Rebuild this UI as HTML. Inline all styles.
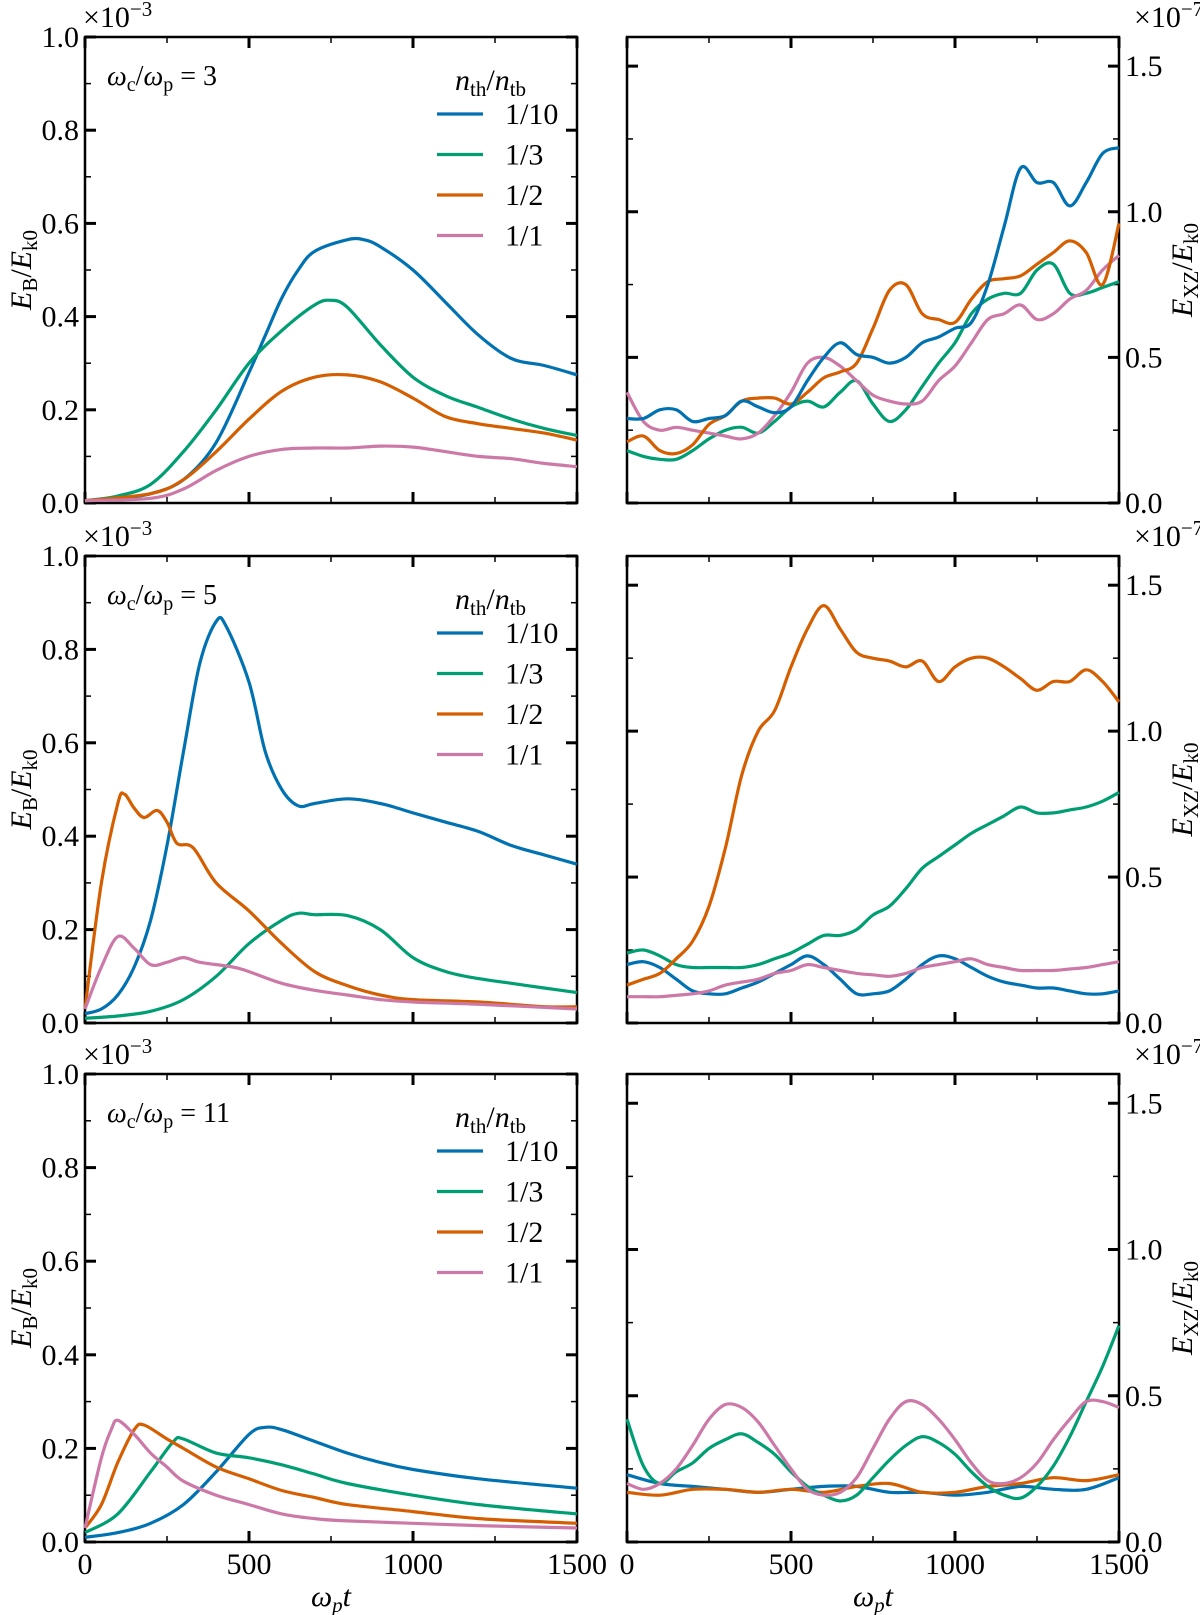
<!DOCTYPE html>
<html><head><meta charset="utf-8"><style>
html,body{margin:0;padding:0;background:#fff;}
svg{display:block;}
svg text{font-family:"Liberation Serif","DejaVu Serif",serif;}
</style></head><body>
<svg id="chart" width="1200" height="1615" viewBox="0 0 1200 1615" xmlns="http://www.w3.org/2000/svg" font-family="Liberation Serif, serif"></svg>
<script>
// ---- data (x = ωp t, values in units shown on axes) ----
const tB = [0,100,200,300,400,500,550,600,650,700,800,850,900,1000,1100,1200,1300,1400,1500];
const r1L_blue = [0.005,0.01,0.02,0.05,0.13,0.28,0.36,0.44,0.5,0.54,0.565,0.565,0.55,0.5,0.43,0.36,0.31,0.295,0.275];
const r1L_t = [0,100,200,300,400,500,600,700,750,800,900,1000,1100,1200,1300,1400,1500];
const r1L_green = [0.005,0.015,0.04,0.11,0.2,0.3,0.37,0.425,0.435,0.42,0.34,0.27,0.23,0.205,0.18,0.16,0.145];
const r1L_t2 = [0,200,300,400,500,600,700,800,900,1000,1100,1200,1300,1400,1500];
const r1L_orange = [0.005,0.02,0.05,0.11,0.18,0.24,0.27,0.275,0.26,0.225,0.185,0.17,0.16,0.15,0.135];
const r1L_pink = [0.005,0.01,0.03,0.07,0.1,0.115,0.118,0.118,0.122,0.12,0.11,0.1,0.095,0.085,0.078];

const tR = [0,50,100,150,200,250,300,350,400,450,500,550,600,650,700,750,800,850,900,950,1000,1050,1100,1150,1200,1250,1300,1350,1400,1450,1500];
const r1R_blue = [0.29,0.29,0.32,0.32,0.28,0.29,0.3,0.35,0.33,0.31,0.33,0.42,0.5,0.55,0.51,0.5,0.48,0.5,0.55,0.57,0.6,0.62,0.75,0.95,1.15,1.1,1.1,1.02,1.1,1.2,1.22];
const r1R_green = [0.18,0.16,0.15,0.15,0.18,0.22,0.25,0.26,0.24,0.28,0.33,0.35,0.33,0.38,0.42,0.34,0.28,0.32,0.4,0.48,0.55,0.65,0.7,0.72,0.72,0.8,0.82,0.72,0.72,0.74,0.76];
const r1R_orange = [0.21,0.23,0.18,0.17,0.2,0.27,0.3,0.35,0.36,0.36,0.34,0.38,0.43,0.45,0.48,0.6,0.73,0.75,0.65,0.63,0.62,0.7,0.76,0.77,0.78,0.82,0.86,0.9,0.86,0.75,0.96];
const r1R_pink = [0.38,0.28,0.25,0.26,0.25,0.24,0.23,0.22,0.24,0.3,0.38,0.48,0.5,0.47,0.42,0.37,0.35,0.34,0.35,0.42,0.47,0.55,0.63,0.65,0.68,0.63,0.65,0.7,0.73,0.8,0.85];

const r2L_tb = [0,50,100,150,200,250,300,350,400,430,500,550,600,650,700,800,900,1000,1100,1200,1300,1400,1500];
const r2L_blue = [0.02,0.03,0.06,0.12,0.22,0.38,0.58,0.77,0.86,0.85,0.73,0.58,0.5,0.465,0.47,0.48,0.47,0.45,0.43,0.41,0.38,0.36,0.34];
const r2L_tg = [0,100,200,300,400,500,600,650,700,800,900,1000,1100,1200,1300,1400,1500];
const r2L_green = [0.01,0.015,0.025,0.05,0.1,0.17,0.22,0.235,0.232,0.23,0.2,0.14,0.11,0.095,0.085,0.075,0.065];
const r2L_to = [0,50,100,120,150,180,220,250,280,330,400,500,600,700,800,900,1000,1200,1400,1500];
const r2L_orange = [0.03,0.3,0.47,0.49,0.46,0.44,0.455,0.43,0.385,0.375,0.3,0.24,0.17,0.11,0.08,0.06,0.05,0.045,0.035,0.035];
const r2L_tp = [0,50,100,150,200,250,300,350,450,500,600,700,800,900,1000,1200,1500];
const r2L_pink = [0.03,0.12,0.185,0.16,0.125,0.13,0.14,0.13,0.12,0.11,0.085,0.07,0.06,0.05,0.045,0.04,0.03];

const r2R_orange = [0.13,0.15,0.17,0.22,0.28,0.4,0.6,0.85,1.0,1.07,1.22,1.35,1.43,1.35,1.27,1.25,1.24,1.22,1.24,1.17,1.22,1.25,1.25,1.22,1.18,1.14,1.17,1.17,1.21,1.17,1.1];
const r2R_green = [0.24,0.25,0.23,0.2,0.19,0.19,0.19,0.19,0.2,0.22,0.24,0.27,0.3,0.3,0.32,0.37,0.4,0.46,0.53,0.57,0.61,0.65,0.68,0.71,0.74,0.72,0.72,0.73,0.74,0.76,0.79];
const r2R_blue = [0.2,0.21,0.19,0.15,0.11,0.1,0.1,0.12,0.14,0.17,0.2,0.23,0.2,0.15,0.1,0.1,0.11,0.15,0.2,0.23,0.22,0.19,0.16,0.14,0.13,0.12,0.12,0.11,0.1,0.1,0.11];
const r2R_pink = [0.09,0.09,0.09,0.095,0.1,0.11,0.13,0.14,0.15,0.17,0.18,0.2,0.19,0.18,0.17,0.165,0.16,0.17,0.19,0.2,0.21,0.22,0.2,0.19,0.18,0.18,0.18,0.185,0.19,0.2,0.21];

const r3L_tp = [0,50,80,100,150,200,250,300,400,500,600,700,800,1000,1200,1500];
const r3L_pink = [0.03,0.18,0.24,0.26,0.23,0.19,0.16,0.13,0.1,0.08,0.06,0.05,0.045,0.04,0.035,0.03];
const r3L_to = [0,50,100,150,180,250,300,400,500,600,700,800,1000,1200,1500];
const r3L_orange = [0.03,0.08,0.17,0.24,0.25,0.22,0.2,0.16,0.135,0.11,0.095,0.08,0.065,0.05,0.04];
const r3L_tg = [0,100,200,270,300,400,500,600,700,800,1000,1200,1500];
const r3L_green = [0.02,0.06,0.15,0.215,0.22,0.19,0.18,0.165,0.145,0.125,0.1,0.08,0.06];
const r3L_tb = [0,100,200,300,400,500,550,600,700,800,900,1000,1200,1500];
const r3L_blue = [0.01,0.02,0.04,0.08,0.15,0.23,0.245,0.24,0.215,0.19,0.17,0.155,0.135,0.115];

const r3R_pink = [0.2,0.18,0.2,0.25,0.33,0.42,0.47,0.46,0.41,0.33,0.25,0.18,0.16,0.17,0.22,0.32,0.42,0.48,0.47,0.42,0.35,0.27,0.21,0.2,0.22,0.27,0.35,0.42,0.48,0.48,0.46];
const r3R_green = [0.42,0.26,0.2,0.24,0.27,0.32,0.35,0.37,0.34,0.3,0.24,0.19,0.16,0.14,0.16,0.22,0.28,0.33,0.36,0.34,0.3,0.24,0.19,0.16,0.15,0.19,0.26,0.36,0.48,0.6,0.74];
const r3R_t = [0,100,200,300,400,500,600,700,800,900,1000,1100,1200,1300,1400,1500];
const r3R_blue = [0.23,0.2,0.19,0.18,0.17,0.18,0.19,0.19,0.17,0.17,0.16,0.17,0.19,0.18,0.18,0.22];
const r3R_orange = [0.17,0.16,0.18,0.18,0.17,0.18,0.17,0.19,0.2,0.17,0.17,0.19,0.2,0.22,0.21,0.23];

const xTicks = [0,500,1000,1500];
const yTicksL = ["0.0","0.2","0.4","0.6","0.8","1.0"];
const yTicksR = ["0.0","0.5","1.0","1.5"];
const legendLabels = ["1/10","1/3","1/2","1/1"];
const ratios = ["3","5","11"];

// ---- drawing ----
const C = {blue:"#0072B2",green:"#009E73",orange:"#D55E00",pink:"#CC79A7"};
const NS="http://www.w3.org/2000/svg";
const svg=document.getElementById('chart');
function el(tag,attrs,parent,text){const e=document.createElementNS(NS,tag);for(const k in attrs)e.setAttribute(k,attrs[k]);if(text!==undefined)e.textContent=text;(parent||svg).appendChild(e);return e;}

const rows=[{top:37,bot:503},{top:556,bot:1023},{top:1074,bot:1542}];
const LX=[85,577], RX=[627,1119];
const FS=30, FSS=21;

function panel(r,side){
  const [x0,x1]=side==='L'?LX:RX;
  const {top,bot}=rows[r];
  const ymax=side==='L'?1.0:1.6;
  const sx=v=>x0+(x1-x0)*v/1500;
  const sy=v=>bot-(bot-top)*v/ymax;
  const g=el('g',{});
  
  
  return {g,sx,sy,x0,x1,top,bot,ymax};
}
function axes(p,side,r){
  const {g,sx,sy,x0,x1,top,bot}=p;
  const a=el('g',{stroke:'#000','stroke-width':1.5},g);
  
  
  el('rect',{x:x0,y:top,width:x1-x0,height:bot-top,fill:'none','stroke-width':2.5},a);
  for(let v=0;v<=1500;v+=250){const maj=v%500===0;const L=maj?11:6;
    el('line',{x1:sx(v),x2:sx(v),y1:bot,y2:bot-L,'stroke-width':maj?3:1.5},a);
    el('line',{x1:sx(v),x2:sx(v),y1:top,y2:top+L,'stroke-width':maj?3:1.5},a);}
  const step=side==='L'?0.1:0.25, maxv=side==='L'?1.0:1.5;
  for(let i=0;i*step<=maxv+1e-9;i++){const v=i*step;const maj=(i%2===0);const L=maj?11:6;
    el('line',{x1:x0,x2:x0+L,y1:sy(v),y2:sy(v),'stroke-width':maj?3:1.5},a);
    el('line',{x1:x1,x2:x1-L,y1:sy(v),y2:sy(v),'stroke-width':maj?3:1.5},a);}
  if(side==='L'){
    yTicksL.forEach((t,i)=>{const tx=el('text',{x:x0-6,y:sy(i*0.2)+10,'font-size':FS,'text-anchor':'end'},g,t);
      });
    const ex=el('text',{x:x0-2,y:top-10,'font-size':FS},g);
    ex.innerHTML='×10<tspan font-size="'+FSS+'" dy="-11">−3</tspan>';
    const yl=el('text',{transform:`translate(31,${(top+bot)/2}) rotate(-90)`,'font-size':FS,'text-anchor':'middle'},g);
    
    yl.innerHTML='<tspan font-style="italic">E</tspan><tspan font-size="'+FSS+'" dy="6">B</tspan><tspan dy="-6">/</tspan><tspan font-style="italic">E</tspan><tspan font-size="'+FSS+'" dy="6">k0</tspan>';
  } else {
    yTicksR.forEach((t,i)=>{const tx=el('text',{x:x1+6,y:sy(i*0.5)+10,'font-size':FS},g,t);
      });
    const ex=el('text',{x:1134,y:top-10,'font-size':FS},g);
    ex.innerHTML='×10<tspan font-size="'+FSS+'" dy="-11">−7</tspan>';
    const yl=el('text',{transform:`translate(1192,${(top+bot)/2}) rotate(-90)`,'font-size':FS,'text-anchor':'middle'},g);
    
    yl.innerHTML='<tspan font-style="italic">E</tspan><tspan font-size="'+FSS+'" dy="6">XZ</tspan><tspan dy="-6">/</tspan><tspan font-style="italic">E</tspan><tspan font-size="'+FSS+'" dy="6">k0</tspan>';
  }
  if(r===2){
    xTicks.forEach(t=>{const tx=el('text',{x:sx(t),y:bot+32,'font-size':FS,'text-anchor':'middle'},g,String(t));
      });
    const xl=el('text',{x:(x0+x1)/2,y:1606,'font-size':FS,'text-anchor':'middle','font-style':'italic'},g);
    
    xl.innerHTML='ω<tspan font-size="'+FSS+'" dy="6">p</tspan><tspan dy="-6">t</tspan>';
  }
}
function line(p,ts,vs,color,name){
  const P=ts.map((t,i)=>[p.sx(t),p.sy(vs[i])]);
  let d='M'+P[0][0].toFixed(1)+','+P[0][1].toFixed(1);
  for(let i=0;i<P.length-1;i++){
    const p0=P[Math.max(0,i-1)],p1=P[i],p2=P[i+1],p3=P[Math.min(P.length-1,i+2)];
    const c1=[p1[0]+(p2[0]-p0[0])/6,p1[1]+(p2[1]-p0[1])/6];
    const c2=[p2[0]-(p3[0]-p1[0])/6,p2[1]-(p3[1]-p1[1])/6];
    d+=` C${c1[0].toFixed(1)},${c1[1].toFixed(1)} ${c2[0].toFixed(1)},${c2[1].toFixed(1)} ${p2[0].toFixed(1)},${p2[1].toFixed(1)}`;
  }
  const e=el('path',{d,fill:'none',stroke:color,'stroke-width':3.2,'stroke-linejoin':'round'},p.g);
  
  
}
function legend(p,r){
  const {g,x0,top}=p;
  const ann=el('text',{x:x0+22,y:top+48,'font-size':28},g);
  
  ann.innerHTML=`<tspan font-style="italic">ω</tspan><tspan font-size="20" dy="6">c</tspan><tspan dy="-6">/</tspan><tspan font-style="italic">ω</tspan><tspan font-size="20" dy="6">p</tspan><tspan dy="-6"> = ${ratios[r]}</tspan>`;
  const lg=el('g',{},g);
  const tt=el('text',{x:x0+370,y:top+53,'font-size':FS},lg);
  
  tt.innerHTML='<tspan font-style="italic">n</tspan><tspan font-size="'+FSS+'" dy="6">th</tspan><tspan dy="-6">/</tspan><tspan font-style="italic">n</tspan><tspan font-size="'+FSS+'" dy="6">tb</tspan>';
  const cols=[C.blue,C.green,C.orange,C.pink];
  legendLabels.forEach((lab,i)=>{const y=top+77+i*40.5;
    const ln=el('line',{x1:x0+352,x2:x0+398,y1:y,y2:y,stroke:cols[i],'stroke-width':3.2},lg);
    
    const tx=el('text',{x:x0+420,y:y+10,'font-size':FS},lg,lab);
    });
}

// Row 1
let p=panel(0,'L');axes(p,'L',0);
line(p,tB,r1L_blue,C.blue,'line-1-10');line(p,r1L_t,r1L_green,C.green,'line-1-3');
line(p,r1L_t2,r1L_orange,C.orange,'line-1-2');line(p,r1L_t2,r1L_pink,C.pink,'line-1-1');legend(p,0);
p=panel(0,'R');axes(p,'R',0);
line(p,tR,r1R_green,C.green,'line-1-3');line(p,tR,r1R_pink,C.pink,'line-1-1');
line(p,tR,r1R_orange,C.orange,'line-1-2');line(p,tR,r1R_blue,C.blue,'line-1-10');
// Row 2
p=panel(1,'L');axes(p,'L',1);
line(p,r2L_tb,r2L_blue,C.blue,'line-1-10');line(p,r2L_tg,r2L_green,C.green,'line-1-3');
line(p,r2L_to,r2L_orange,C.orange,'line-1-2');line(p,r2L_tp,r2L_pink,C.pink,'line-1-1');legend(p,1);
p=panel(1,'R');axes(p,'R',1);
line(p,tR,r2R_blue,C.blue,'line-1-10');line(p,tR,r2R_pink,C.pink,'line-1-1');
line(p,tR,r2R_green,C.green,'line-1-3');line(p,tR,r2R_orange,C.orange,'line-1-2');
// Row 3
p=panel(2,'L');axes(p,'L',2);
line(p,r3L_tb,r3L_blue,C.blue,'line-1-10');line(p,r3L_tg,r3L_green,C.green,'line-1-3');
line(p,r3L_to,r3L_orange,C.orange,'line-1-2');line(p,r3L_tp,r3L_pink,C.pink,'line-1-1');legend(p,2);
p=panel(2,'R');axes(p,'R',2);
line(p,r3R_t,r3R_blue,C.blue,'line-1-10');line(p,r3R_t,r3R_orange,C.orange,'line-1-2');
line(p,tR,r3R_green,C.green,'line-1-3');line(p,tR,r3R_pink,C.pink,'line-1-1');
</script>
</body></html>
